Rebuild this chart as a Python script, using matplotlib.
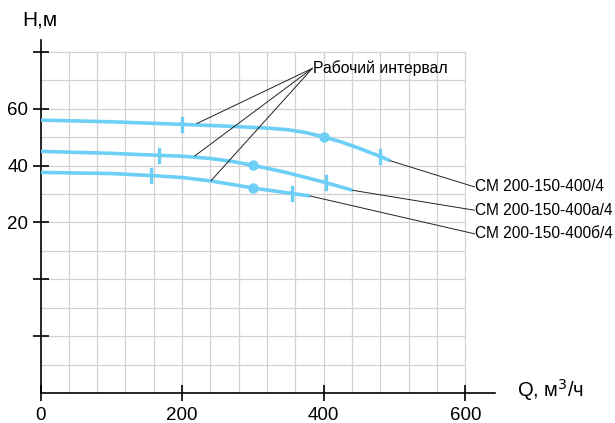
import matplotlib
matplotlib.use('Agg')
import matplotlib.pyplot as plt
import numpy as np

plt.rcParams['font.family'] = ['Liberation Sans', 'DejaVu Sans']

# pump curves (Q, m3/h ; H, m)
q_400 = [0, 100, 200, 270, 320, 350, 375, 400, 425, 450, 480, 494]
h_400 = [56.0, 55.4, 54.5, 53.8, 53.2, 52.6, 51.6, 50.1, 48.3, 46.1, 43.2, 41.7]
q_400a = [0, 100, 168, 200, 240, 270, 300, 325, 350, 375, 403, 441]
h_400a = [45.0, 44.3, 43.6, 43.3, 42.5, 41.5, 40.1, 38.8, 37.4, 35.8, 34.0, 31.3]
q_400b = [0, 100, 156, 200, 240, 272, 300, 355, 381]
h_400b = [37.6, 37.2, 36.5, 35.8, 34.6, 33.3, 32.1, 30.2, 29.3]

# working interval limits and middle points
work_ticks = [(200, 54.5), (480, 43.2), (168, 43.6), (403, 34.0), (156, 36.5), (355, 30.2)]
dots = [(400, 50.1), (300, 40.1), (300, 32.1)]

names = ['СМ 200-150-400/4', 'СМ 200-150-400а/4', 'СМ 200-150-400б/4']
name_y = [32.5, 24.3, 16.0]

x_ticks = [0, 200, 400, 600]
y_ticks = [-20, 0, 20, 40, 60, 80]
y_labels = ['', '', '20', '40', '60', '']

blue = '#6dcff6'

fig = plt.figure(figsize=(6.15, 4.23), dpi=100)
ax = fig.add_axes([40.5/615, 30/423, 454.5/615, 352.5/423])
ax.set_xlim(0, 642)
ax.set_ylim(-40, 84)

''' grid '''
for gx in np.arange(40, 601, 40):
    ax.plot([gx, gx], [-40, 80], color='#d2d2d2', lw=0.9, zorder=1)
for gy in np.arange(-30, 81, 10):
    ax.plot([0, 600], [gy, gy], color='#d2d2d2', lw=0.9, zorder=1)

''' curves '''
for q, h in [(q_400, h_400), (q_400a, h_400a), (q_400b, h_400b)]:
    ax.plot(q, h, color=blue, lw=2.6, solid_capstyle='butt', solid_joinstyle='round', zorder=3)
for tq, th in work_ticks:
    ax.plot([tq, tq], [th - 2.3, th + 2.3], color=blue, lw=2.4, zorder=3)
ax.plot([d[0] for d in dots], [d[1] for d in dots], 'o', color=blue, ms=6.5, zorder=4)

''' labels '''
ann_x, ann_y = 384, 74.2
for px, py in [(221, 54.8), (218, 43.4), (241, 34.7)]:
    ax.plot([px, ann_x], [py, ann_y], color='#222222', lw=0.7, zorder=5)
ax.text(ann_x + 1, ann_y, 'Рабочий интервал', fontsize=11.3, va='center', ha='left')

ends = [(q_400[-1], h_400[-1]), (q_400a[-1], h_400a[-1]), (q_400b[-1], h_400b[-1])]
for (ex, ey), name, ny in zip(ends, names, name_y):
    ax.plot([ex, 613], [ey, ny], color='#222222', lw=0.7, zorder=5, clip_on=False)
    ax.text(614, ny, name, fontsize=11.2, va='center', ha='left')

''' axes '''
for s in ['top', 'right']:
    ax.spines[s].set_visible(False)
ax.spines['left'].set_linewidth(1.2)
ax.spines['bottom'].set_linewidth(1.2)
ax.spines['left'].set_bounds(-40, 84)
ax.set_xticks(x_ticks)
ax.set_xticklabels([str(v) for v in x_ticks])
ax.set_yticks(y_ticks)
ax.set_yticklabels(y_labels)
ax.tick_params(direction='inout', length=12, width=1.2, labelsize=13.5)
ax.tick_params(axis='x', pad=4)
ax.tick_params(axis='y', pad=3)
fig.text(22/615, 1 - 20/423, 'H,м', fontsize=15, va='center', ha='left')
fig.text(517/615, 1 - 390/423, 'Q, м$^3$/ч', fontsize=14.5, va='center', ha='left')

fig.savefig('out.png', dpi=100)
